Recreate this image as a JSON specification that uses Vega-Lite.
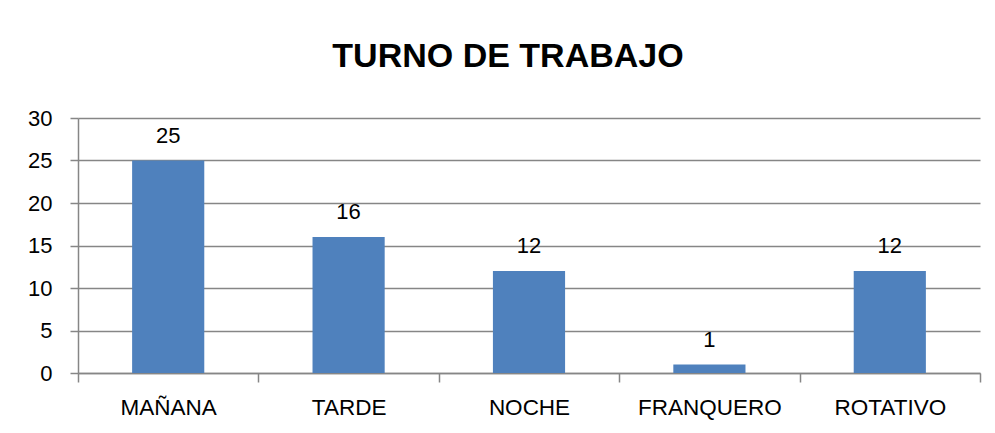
{
  "$schema": "https://vega.github.io/schema/vega-lite/v6.json",
  "width": 902,
  "height": 255,
  "autosize": {"type": "none"},
  "padding": {"left": 78, "top": 118, "right": 15, "bottom": 60},
  "background": "white",
  "title": {
    "text": "TURNO DE TRABAJO",
    "font": "Liberation Sans",
    "fontSize": 34,
    "fontWeight": "bold",
    "color": "black",
    "anchor": "middle",
    "frame": "group",
    "dx": -21,
    "offset": 33
  },
  "config": {
    "view": {"stroke": null},
    "font": "Liberation Sans"
  },
  "data": {
    "values": [
      {"turno": "MAÑANA", "n": 25},
      {"turno": "TARDE", "n": 16},
      {"turno": "NOCHE", "n": 12},
      {"turno": "FRANQUERO", "n": 1},
      {"turno": "ROTATIVO", "n": 12}
    ]
  },
  "encoding": {
    "x": {
      "field": "turno",
      "type": "nominal",
      "sort": null,
      "scale": {"paddingInner": 0, "paddingOuter": 0},
      "axis": {
        "title": null,
        "labelAngle": 0,
        "labelFont": "Liberation Sans",
        "labelFontSize": 22.5,
        "labelColor": "black",
        "labelPadding": 14,
        "tickBand": "extent",
        "tickSize": 9,
        "tickColor": "#868686",
        "tickWidth": 1.5,
        "domainColor": "#868686",
        "domainWidth": 1.5,
        "grid": false
      }
    },
    "y": {
      "field": "n",
      "type": "quantitative",
      "scale": {"domain": [0, 30], "nice": false},
      "axis": {
        "title": null,
        "values": [0, 5, 10, 15, 20, 25, 30],
        "labelFont": "Liberation Sans",
        "labelFontSize": 22,
        "labelColor": "black",
        "labelPadding": 18,
        "tickSize": 8,
        "tickColor": "#868686",
        "tickWidth": 1.5,
        "domainColor": "#868686",
        "domainWidth": 1.5,
        "gridColor": "#868686",
        "gridWidth": 1.5,
        "gridOpacity": 1
      }
    }
  },
  "layer": [
    {"mark": {"type": "bar", "color": "#4F81BD", "width": {"band": 0.4}}},
    {
      "mark": {"type": "text", "baseline": "alphabetic", "dy": -18, "fontSize": 22, "font": "Liberation Sans", "color": "black"},
      "encoding": {"text": {"field": "n", "type": "quantitative"}}
    }
  ]
}
